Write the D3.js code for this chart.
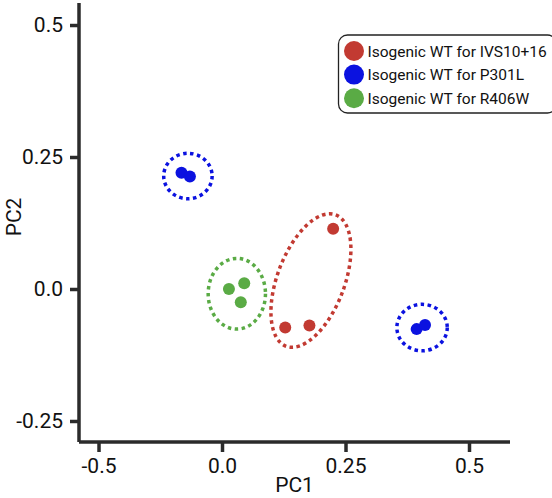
<!DOCTYPE html>
<html>
<head>
<meta charset="utf-8">
<script src="https://cdn.jsdelivr.net/npm/d3@7"></script>
<style>
  body { margin: 0; background: #fff; }
  text { font-family: Roboto, "Liberation Sans", sans-serif; fill: #111; }
</style>
</head>
<body>
<div id="chart"></div>
<script>
// groups, colours and sample coordinates (PC1, PC2)
const groups = ["Isogenic WT for IVS10+16", "Isogenic WT for P301L", "Isogenic WT for R406W"];
const groupColors = ["#c23a32", "#0b12e0", "#5aab45"];

const pointGroup = [0, 0, 0, 1, 1, 1, 1, 2, 2, 2];
const pc1 = [0.225, 0.128, 0.177, -0.082, -0.065, 0.394, 0.411, 0.014, 0.045, 0.038];
const pc2 = [0.114, -0.073, -0.069, 0.220, 0.213, -0.076, -0.068, 0.000, 0.011, -0.025];

// cluster ellipses: centre, half-widths in data units, rotation (deg)
const ellGroup = [0, 1, 1, 2];
const ellCx = [0.180, -0.069, 0.405, 0.030];
const ellCy = [0.016, 0.214, -0.073, -0.009];
const ellRx = [0.068, 0.049, 0.051, 0.058];
const ellRy = [0.133, 0.043, 0.044, 0.067];
const ellAngle = [20.6, 0, 0, 0];

// ticks: positions and the labels printed on the reference
const xTickValues = [-0.25, 0, 0.25, 0.5];
const xTickLabels = ["-0.5", "0.0", "0.25", "0.5"];
const yTickValues = [-0.25, 0, 0.25, 0.5];
const yTickLabels = ["-0.25", "0.0", "0.25", "0.5"];

const width = 552, height = 498;
const margin = { top: 3, right: 42, bottom: 56, left: 79 };

const svg = d3.select("#chart").append("svg")
    .attr("width", width)
    .attr("height", height);

const x = d3.scaleLinear()
    .domain([-0.2895, 0.583])
    .range([margin.left, width - margin.right]);

const y = d3.scaleLinear()
    .domain([-0.2898, 0.5417])
    .range([height - margin.bottom, margin.top]);

/* axes */
const xAxis = svg.append("g")
    .attr("transform", "translate(0," + (height - margin.bottom) + ")")
    .call(d3.axisBottom(x)
        .tickValues(xTickValues)
        .tickFormat((d, i) => xTickLabels[i])
        .tickSize(10)
        .tickPadding(6));

const yAxis = svg.append("g")
    .attr("transform", "translate(" + margin.left + ",0)")
    .call(d3.axisLeft(y)
        .tickValues(yTickValues)
        .tickFormat((d, i) => yTickLabels[i])
        .tickSize(9)
        .tickPadding(7));

[xAxis, yAxis].forEach(function (g) {
    g.select(".domain")
        .attr("stroke", "#2b2b2b")
        .attr("stroke-width", 3.5)
        .attr("d", g === xAxis
            ? "M" + margin.left + ",0H" + (width - margin.right)
            : "M0," + margin.top + "V" + (height - margin.bottom));
    g.selectAll(".tick line")
        .attr("stroke", "#2b2b2b")
        .attr("stroke-width", 3.5);
    g.selectAll(".tick text")
        .style("font-family", "Roboto, sans-serif")
        .style("font-size", "21px")
        .attr("fill", "#111");
});

svg.append("text")
    .attr("x", (margin.left + width - margin.right) / 2)
    .attr("y", 492)
    .attr("text-anchor", "middle")
    .style("font-size", "21px")
    .text("PC1");

svg.append("text")
    .attr("transform", "translate(21," + 217 + ") rotate(-90)")
    .attr("text-anchor", "middle")
    .style("font-size", "21px")
    .text("PC2");

/* dotted cluster ellipses */
svg.append("g").selectAll("ellipse")
    .data(ellCx.map((d, i) => i))
    .enter().append("ellipse")
    .attr("transform", i => "translate(" + x(ellCx[i]) + "," + y(ellCy[i]) + ") rotate(" + ellAngle[i] + ")")
    .attr("rx", i => x(ellRx[i]) - x(0))
    .attr("ry", i => y(0) - y(ellRy[i]))
    .attr("fill", "none")
    .attr("stroke", i => groupColors[ellGroup[i]])
    .attr("stroke-width", 3.5)
    .attr("stroke-dasharray", "3.5 3.5");

/* points */
svg.append("g").selectAll("circle")
    .data(pc1.map((d, i) => i))
    .enter().append("circle")
    .attr("cx", i => x(pc1[i]))
    .attr("cy", i => y(pc2[i]))
    .attr("r", 6)
    .attr("fill", i => groupColors[pointGroup[i]]);

/* legend */
const legend = svg.append("g")
    .attr("transform", "translate(338.5,35)");

legend.append("rect")
    .attr("width", 218)
    .attr("height", 78)
    .attr("rx", 9)
    .attr("fill", "#fff")
    .attr("stroke", "#222")
    .attr("stroke-width", 1.3);

const item = legend.selectAll("g.item")
    .data(groups)
    .enter().append("g")
    .classed("item", true)
    .attr("transform", (d, i) => "translate(0," + (16 + i * 23.6) + ")");

item.append("circle")
    .attr("cx", 15.5)
    .attr("r", 10)
    .attr("fill", (d, i) => groupColors[i]);

item.append("text")
    .attr("x", 29)
    .attr("dy", "0.36em")
    .style("font-size", "15.5px")
    .text(d => d);
</script>
</body>
</html>
